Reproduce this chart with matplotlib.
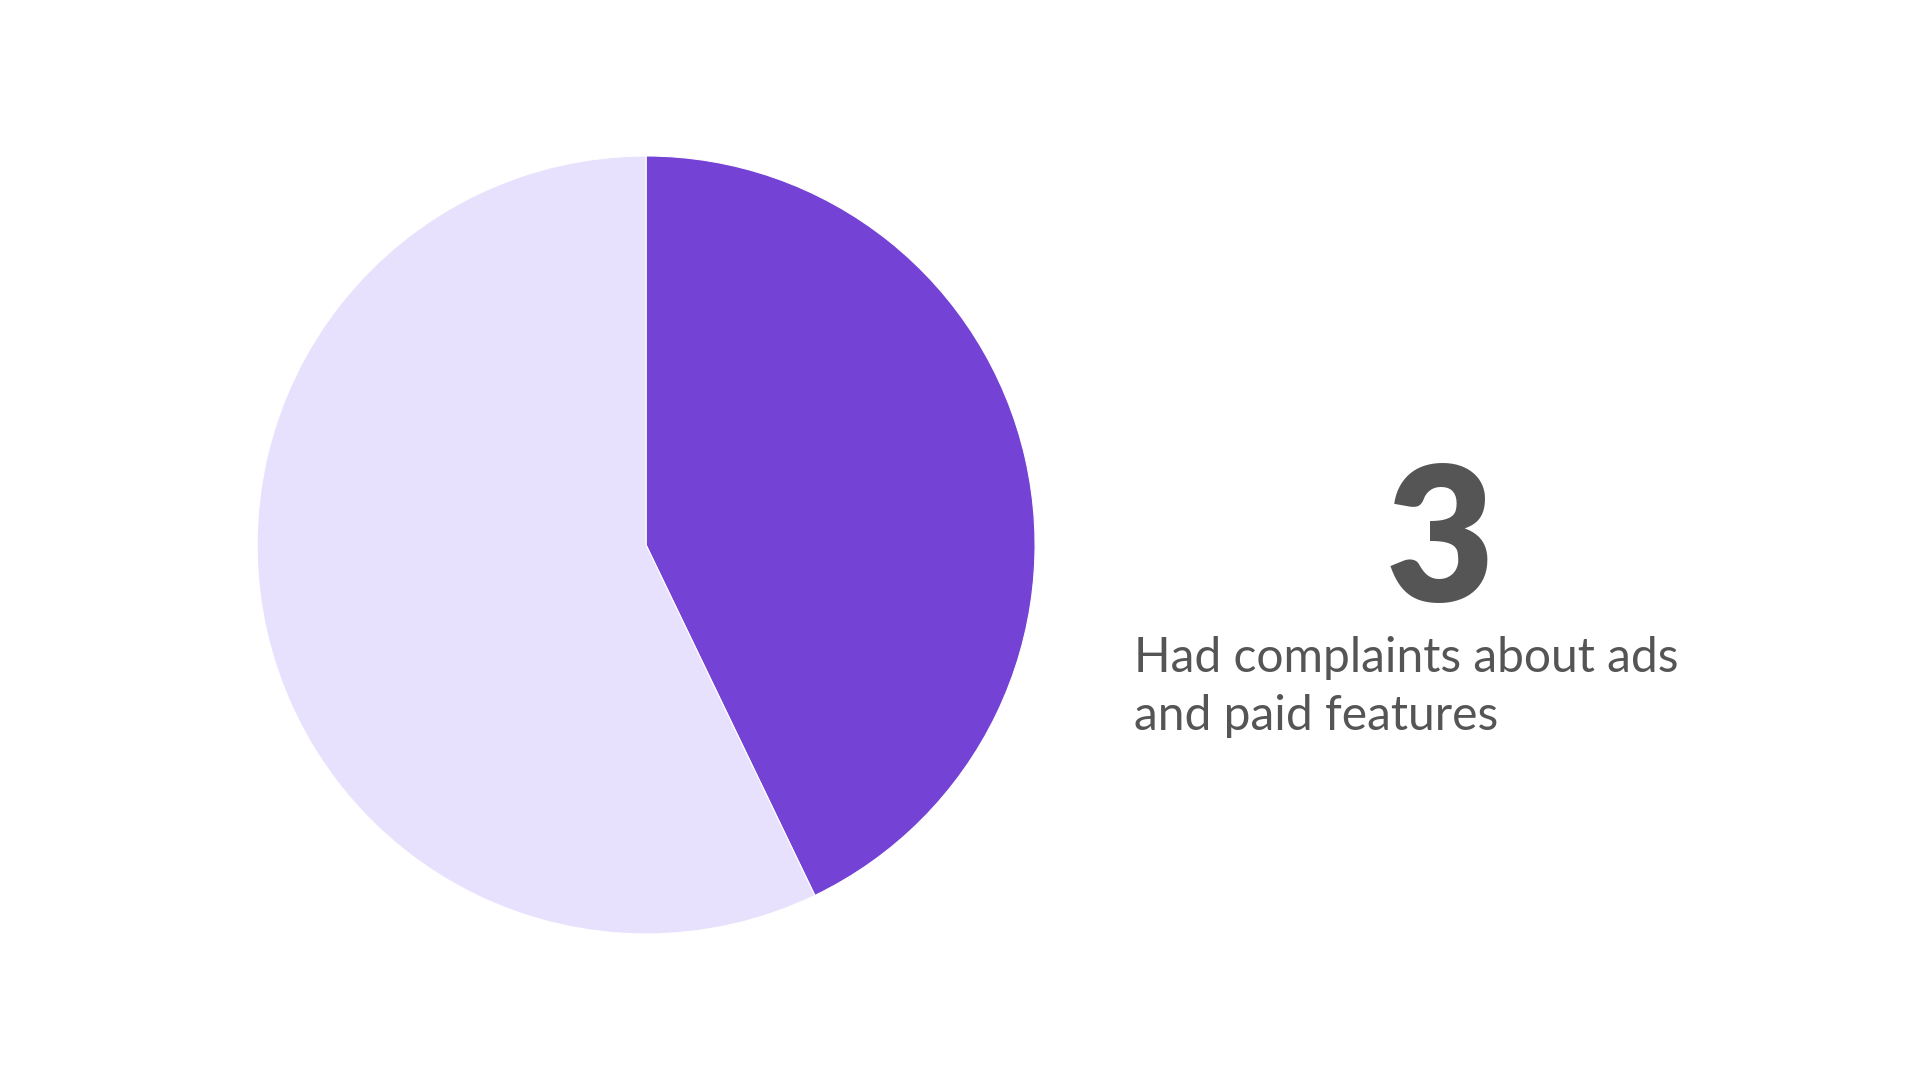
import matplotlib
matplotlib.use("Agg")
import matplotlib.pyplot as plt

# Data
categories = ["Had complaints about ads and paid features", "Other"]
values = [3, 4]
colors = ["#7443D6", "#E8E1FD"]
big_number = "3"
caption_lines = ["Had complaints about ads", "and paid features"]

fig = plt.figure(figsize=(19.2, 10.8), dpi=100)
fig.patch.set_facecolor("white")

ax = fig.add_axes([0.1339, 0.1352, 0.4052, 0.7204])
ax.pie(values, colors=colors, startangle=90, counterclock=False,
       wedgeprops=dict(edgecolor="white", linewidth=0.8))
ax.set_xlim(-1, 1)
ax.set_ylim(-1, 1)
ax.set_aspect("equal")
ax.axis("off")

fig.text(0.75, 0.4426, big_number, ha="center", va="baseline",
         fontsize=135, fontweight="heavy", family="Lato", color="#555555")
fig.text(1134 / 1920, 1 - 672 / 1080, caption_lines[0], ha="left", va="baseline",
         fontsize=34.6, family="Lato", color="#555555")
fig.text(1134 / 1920, 1 - 730 / 1080, caption_lines[1], ha="left", va="baseline",
         fontsize=34.6, family="Lato", color="#555555")

fig.savefig("out.png", dpi=100, facecolor="white")
